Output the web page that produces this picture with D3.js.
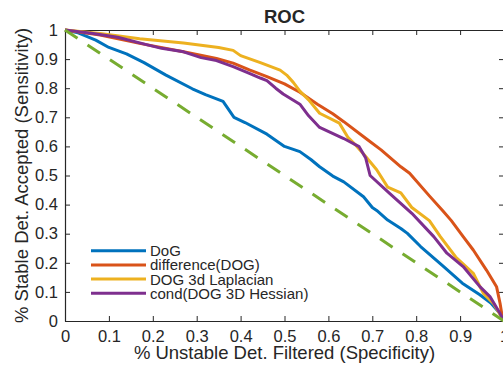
<!DOCTYPE html>
<html>
<head>
<meta charset="utf-8">
<script src="https://cdn.jsdelivr.net/npm/d3@7"></script>
<style>
  body { margin: 0; background: #fff; overflow: hidden; }
  svg { display: block; }
  text { font-family: "Liberation Sans", Arial, sans-serif; fill: #262626; }
</style>
</head>
<body>
<div id="graphDiv"></div>
<script>
// series: [specificity, sensitivity]
var dog = [[0,1],[0.03,0.99],[0.07,0.965],[0.1,0.94],[0.14,0.918],[0.18,0.888],[0.23,0.845],[0.29,0.798],[0.32,0.778],[0.36,0.755],[0.385,0.70],[0.41,0.682],[0.46,0.642],[0.50,0.60],[0.535,0.582],[0.56,0.555],[0.58,0.53],[0.61,0.498],[0.635,0.478],[0.68,0.427],[0.70,0.39],[0.71,0.38],[0.735,0.347],[0.765,0.318],[0.78,0.301],[0.81,0.256],[0.86,0.19],[0.905,0.13],[0.945,0.09],[0.97,0.062],[0.99,0.027],[1,0]];
var diffDog = [[0,1],[0.08,0.983],[0.17,0.954],[0.27,0.925],[0.345,0.902],[0.383,0.886],[0.42,0.863],[0.46,0.84],[0.50,0.815],[0.535,0.786],[0.575,0.745],[0.61,0.712],[0.635,0.685],[0.69,0.622],[0.72,0.588],[0.765,0.53],[0.785,0.508],[0.83,0.43],[0.86,0.38],[0.88,0.345],[0.907,0.29],[0.93,0.244],[0.96,0.175],[0.983,0.118],[0.991,0.061],[0.996,0.015],[1,0]];
var laplacian = [[0,1],[0.08,0.988],[0.17,0.97],[0.27,0.955],[0.35,0.94],[0.383,0.93],[0.40,0.912],[0.445,0.888],[0.49,0.862],[0.505,0.845],[0.52,0.82],[0.535,0.79],[0.555,0.76],[0.58,0.714],[0.625,0.68],[0.645,0.63],[0.665,0.60],[0.685,0.565],[0.71,0.52],[0.735,0.46],[0.765,0.44],[0.79,0.39],[0.83,0.345],[0.855,0.29],[0.89,0.22],[0.93,0.164],[0.953,0.095],[0.976,0.06],[1,0]];
var hessian = [[0,1],[0.064,0.988],[0.12,0.975],[0.19,0.948],[0.22,0.937],[0.27,0.925],[0.31,0.905],[0.345,0.895],[0.383,0.874],[0.42,0.851],[0.445,0.835],[0.46,0.826],[0.48,0.80],[0.497,0.78],[0.535,0.745],[0.555,0.705],[0.58,0.665],[0.635,0.627],[0.67,0.599],[0.685,0.56],[0.695,0.5],[0.74,0.438],[0.79,0.37],[0.84,0.29],[0.87,0.233],[0.907,0.187],[0.945,0.118],[0.968,0.084],[0.991,0.026],[1,0]];
var chance = [[0,1],[1,0]];

var seriesNames = ["DoG", "difference(DOG)", "DOG 3d Laplacian", "cond(DOG 3D Hessian)"];
var seriesColors = ["#0072BD", "#D95319", "#EDB120", "#7E2F8E"];
var tickValues = [0, 0.1, 0.2, 0.3, 0.4, 0.5, 0.6, 0.7, 0.8, 0.9, 1];

var margin = {top: 30, right: -1, bottom: 46, left: 65},
    outerWidth = 503,
    outerHeight = 367,
    innerWidth = outerWidth - margin.left - margin.right,
    innerHeight = outerHeight - margin.top - margin.bottom;

var svg = d3.select("#graphDiv")
    .append("svg")
    .attr("width", outerWidth)
    .attr("height", outerHeight)
    .append("g")
    .attr("transform", "translate(" + margin.left + "," + margin.top + ")");

var x = d3.scaleLinear().domain([0, 1]).range([0, innerWidth]);
var y = d3.scaleLinear().domain([0, 1]).range([innerHeight, 0]);

var fmt = function(d) { return d === 0 ? "0" : d === 1 ? "1" : d3.format(".1f")(d); };

// bottom/left axes with labels, top/right axes with ticks only (box on)
svg.append("g")
    .attr("transform", "translate(0," + innerHeight + ")")
    .call(d3.axisBottom(x).tickValues(tickValues).tickFormat(fmt).tickSizeInner(-5).tickSizeOuter(0).tickPadding(9));
svg.append("g")
    .call(d3.axisLeft(y).tickValues(tickValues).tickFormat(fmt).tickSizeInner(-5).tickSizeOuter(0).tickPadding(7));
svg.append("g")
    .call(d3.axisTop(x).tickValues(tickValues).tickSizeInner(-5).tickSizeOuter(0))
    .selectAll("text").remove();
svg.append("g")
    .attr("transform", "translate(" + innerWidth + ",0)")
    .call(d3.axisRight(y).tickValues(tickValues).tickSizeInner(-5).tickSizeOuter(0))
    .selectAll("text").remove();

svg.selectAll(".domain").attr("stroke", "#262626").attr("stroke-width", 1.2);
svg.selectAll(".tick line").attr("stroke", "#262626").attr("stroke-width", 1);
svg.selectAll(".tick text")
    .style("font-family", "'Liberation Sans', Arial, sans-serif")
    .style("font-size", "16.5px")
    .attr("fill", "#262626");

// curves
var line = d3.line()
    .x(function(d) { return x(d[0]); })
    .y(function(d) { return y(d[1]); });

var allSeries = [dog, diffDog, laplacian, hessian];
svg.selectAll(".roc")
    .data(allSeries)
    .enter()
    .append("path")
    .attr("class", "roc")
    .attr("fill", "none")
    .attr("stroke", function(d, i) { return seriesColors[i]; })
    .attr("stroke-width", 3)
    .attr("stroke-linejoin", "round")
    .attr("d", line);

svg.append("path")
    .datum(chance)
    .attr("fill", "none")
    .attr("stroke", "#77AC30")
    .attr("stroke-width", 3)
    .attr("stroke-dasharray", "15,12")
    .attr("d", line);

// title and axis labels
svg.append("text")
    .attr("x", innerWidth / 2)
    .attr("y", -7)
    .attr("text-anchor", "middle")
    .style("font-size", "18.5px")
    .style("font-weight", "bold")
    .attr("fill", "#000")
    .text("ROC");

svg.append("text")
    .attr("x", innerWidth / 2)
    .attr("y", innerHeight + 38)
    .attr("text-anchor", "middle")
    .style("font-size", "18.5px")
    .text("% Unstable Det. Filtered (Specificity)");

svg.append("text")
    .attr("transform", "translate(" + (28 - margin.left) + "," + (innerHeight / 2) + ")rotate(-90)")
    .attr("text-anchor", "middle")
    .style("font-size", "18.5px")
    .text("% Stable Det. Accepted (Sensitivity)");

// legend (no box)
var legend = svg.selectAll(".legend")
    .data(seriesNames)
    .enter()
    .append("g")
    .attr("transform", function(d, i) { return "translate(" + (91 - margin.left) + "," + (250.7 - margin.top + i * 14.2) + ")"; });
legend.append("line")
    .attr("x1", 0).attr("x2", 55)
    .attr("stroke", function(d, i) { return seriesColors[i]; })
    .attr("stroke-width", 3);
legend.append("text")
    .attr("x", 59)
    .attr("dy", "0.36em")
    .style("font-size", "15px")
    .text(function(d) { return d; });
</script>
</body>
</html>
